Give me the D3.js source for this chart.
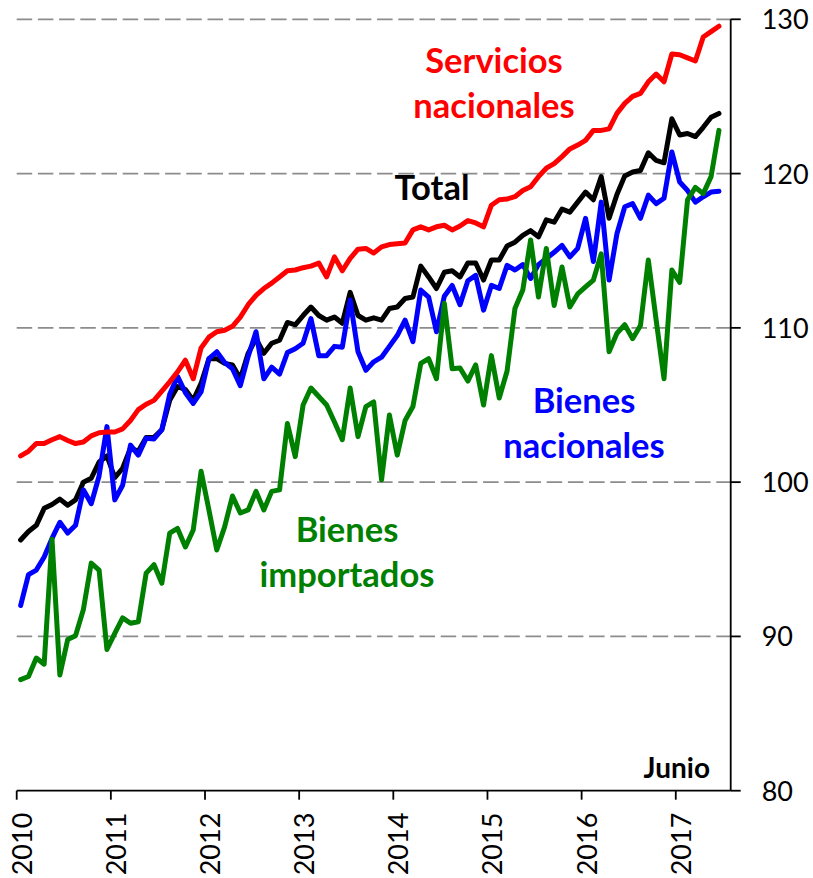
<!DOCTYPE html>
<html>
<head>
<meta charset="utf-8">
<script src="https://cdn.jsdelivr.net/npm/d3@7"></script>
<style>
    body { margin: 0; background: #fff; }
    .gridLine { stroke: #8c8c8c; stroke-width: 1.8; stroke-dasharray: 15.5 5.7; fill: none; }
    .axisLine { stroke: #000; stroke-width: 1.8; fill: none; }
    .tickLabel { font-family: Lato, "Open Sans", sans-serif; font-size: 27px; fill: #000; }
    .seriesLine { fill: none; stroke-width: 5; stroke-linejoin: round; stroke-linecap: round; }
    .seriesLabel { font-family: Lato, "Open Sans", sans-serif; font-weight: bold; font-size: 34.5px; text-anchor: middle; }
</style>
</head>
<body>
<script>
//monthly index values, Jan 2010 - Jun 2017
var years = ["2010", "2011", "2012", "2013", "2014", "2015", "2016", "2017"];
var yTicks = [80, 90, 100, 110, 120, 130];

var servicios = [101.7, 102.0, 102.5, 102.5, 102.75, 102.95, 102.7, 102.5, 102.6, 103.0, 103.2, 103.25,
    103.25, 103.45, 104.0, 104.7, 105.05, 105.3, 105.9, 106.5, 107.15, 107.9, 106.7, 108.7,
    109.4, 109.75, 109.85, 110.1, 110.7, 111.5, 112.1, 112.55, 112.9, 113.3, 113.7, 113.75,
    113.9, 114.0, 114.2, 113.3, 114.6, 113.7, 114.5, 115.1, 115.15, 114.85, 115.25, 115.4,
    115.45, 115.5, 116.35, 116.55, 116.35, 116.55, 116.65, 116.35, 116.6, 116.95, 116.8, 116.55,
    117.95, 118.3, 118.35, 118.5, 118.9, 119.15, 119.8, 120.35, 120.65, 121.1, 121.6, 121.85,
    122.15, 122.8, 122.8, 122.9, 123.9, 124.55, 125.0, 125.2, 125.95, 126.45, 125.95, 127.75,
    127.7, 127.5, 127.3, 128.85, 129.2, 129.55];

var total = [96.25, 96.8, 97.2, 98.3, 98.55, 98.9, 98.5, 98.85, 100.0, 100.25, 101.3, 101.7,
    100.3, 100.9, 102.2, 102.0, 102.9, 102.9, 103.4, 105.3, 106.2, 106.0, 105.3, 106.4,
    108.0, 108.0, 107.7, 107.6, 106.7, 108.35, 109.3, 108.35, 109.0, 109.2, 110.35, 110.2,
    110.8, 111.35, 110.8, 110.5, 110.7, 110.3, 112.3, 110.8, 110.5, 110.65, 110.5, 111.25,
    111.35, 111.9, 112.0, 114.0, 113.3, 112.55, 113.6, 113.7, 113.3, 114.2, 114.2, 113.1,
    114.4, 114.4, 115.3, 115.55, 116.0, 116.3, 115.9, 117.0, 116.85, 117.7, 117.5, 118.15,
    118.8, 118.3, 119.8, 117.1, 118.65, 119.85, 120.1, 120.2, 121.35, 120.85, 120.7, 123.55,
    122.5, 122.6, 122.4, 123.0, 123.65, 123.9];

var bienesNac = [92.0, 94.0, 94.3, 95.15, 96.35, 97.4, 96.7, 97.2, 99.5, 98.6, 100.4, 103.6,
    98.85, 99.8, 102.4, 101.75, 102.85, 102.8, 103.4, 105.7, 106.85, 105.8, 105.1, 105.85,
    108.0, 108.45, 107.75, 107.35, 106.25, 108.15, 109.75, 106.7, 107.45, 107.0, 108.4, 108.65,
    109.0, 110.6, 108.2, 108.2, 108.8, 108.75, 111.8, 108.45, 107.25, 107.8, 108.1, 108.8,
    109.5, 110.5, 109.1, 112.45, 112.0, 109.75, 112.05, 112.75, 111.5, 113.05, 113.4, 111.15,
    112.75, 112.55, 114.05, 113.75, 114.1, 113.2, 114.1, 114.5, 114.9, 115.35, 114.6, 115.15,
    117.1, 114.3, 118.15, 113.1, 116.1, 117.85, 118.05, 117.1, 118.6, 118.05, 118.4, 121.4,
    119.45, 118.9, 118.15, 118.5, 118.8, 118.85];

var bienesImp = [87.2, 87.4, 88.6, 88.2, 96.3, 87.5, 89.8, 90.05, 91.75, 94.75, 94.3, 89.15,
    90.2, 91.2, 90.85, 90.95, 94.1, 94.65, 93.45, 96.7, 97.0, 95.8, 96.9, 100.7,
    98.2, 95.6, 97.1, 99.1, 98.0, 98.2, 99.4, 98.2, 99.4, 99.5, 103.8, 101.65,
    105.0, 106.1, 105.55, 105.0, 103.9, 102.75, 106.1, 102.95, 104.9, 105.2, 100.15, 104.35,
    101.75, 104.0, 104.9, 107.7, 108.0, 106.7, 111.6, 107.35, 107.4, 106.55, 107.6, 105.0,
    108.2, 105.45, 107.2, 111.25, 112.45, 115.7, 112.0, 115.15, 111.45, 113.95, 111.35, 112.2,
    112.65, 113.1, 114.8, 108.45, 109.65, 110.2, 109.3, 110.15, 114.4, 110.5, 106.7, 113.75,
    112.95, 118.3, 119.1, 118.7, 119.8, 122.8];

window.onload = setChart();

function setChart(){
    //svg dimensions
    var width = 813,
        height = 878;

    var svg = d3.select("body")
        .append("svg")
        .attr("width", width)
        .attr("height", height);

    //91 monthly slots on the category axis, points in the middle of each
    var x = d3.scaleLinear()
        .domain([0, 91])
        .range([16.7, 730.7]);

    var y = d3.scaleLinear()
        .domain([80, 130])
        .range([790.7, 19.3]);

    //dashed grid lines
    svg.selectAll(".gridLine")
        .data(yTicks.filter(function(d){ return d > 80; }))
        .enter()
        .append("line")
        .attr("class", "gridLine")
        .attr("x1", x(0))
        .attr("x2", x(91))
        .attr("y1", function(d){ return y(d); })
        .attr("y2", function(d){ return y(d); });

    //series lines, drawn in order
    var series = [
        {values: total, color: "#000000"},
        {values: bienesNac, color: "#0000ff"},
        {values: bienesImp, color: "#008000"},
        {values: servicios, color: "#ff0000"}
    ];

    var line = d3.line()
        .x(function(d, i){ return x(i + 0.5); })
        .y(function(d){ return y(d); });

    svg.selectAll(".seriesLine")
        .data(series)
        .enter()
        .append("path")
        .attr("class", "seriesLine")
        .attr("stroke", function(d){ return d.color; })
        .attr("d", function(d){ return line(d.values); });

    //x axis
    var xAxis = svg.append("g");
    xAxis.append("line")
        .attr("class", "axisLine")
        .attr("x1", x(0))
        .attr("x2", x(91))
        .attr("y1", y(80))
        .attr("y2", y(80));

    xAxis.selectAll(".xTick")
        .data(years)
        .enter()
        .append("line")
        .attr("class", "axisLine xTick")
        .attr("x1", function(d, i){ return x(i * 12); })
        .attr("x2", function(d, i){ return x(i * 12); })
        .attr("y1", y(80))
        .attr("y2", y(80) + 9);

    xAxis.selectAll(".xLabel")
        .data(years)
        .enter()
        .append("text")
        .attr("class", "tickLabel xLabel")
        .attr("text-anchor", "end")
        .attr("transform", function(d, i){
            return "translate(" + (x(i * 12) + 15) + "," + (y(80) + 22) + ") rotate(-90)";
        })
        .text(function(d){ return d; });

    //y axis on the right
    var yAxis = svg.append("g");
    yAxis.append("line")
        .attr("class", "axisLine")
        .attr("x1", x(91))
        .attr("x2", x(91))
        .attr("y1", y(130))
        .attr("y2", y(80));

    yAxis.selectAll(".yTick")
        .data(yTicks)
        .enter()
        .append("line")
        .attr("class", "axisLine yTick")
        .attr("x1", x(91))
        .attr("x2", x(91) + 10)
        .attr("y1", function(d){ return y(d); })
        .attr("y2", function(d){ return y(d); });

    yAxis.selectAll(".yLabel")
        .data(yTicks)
        .enter()
        .append("text")
        .attr("class", "tickLabel yLabel")
        .attr("x", x(91) + 31)
        .attr("y", function(d){ return y(d) + 10; })
        .text(function(d){ return d; });

    //series labels
    var labels = [
        {lines: ["Servicios", "nacionales"], x: 494, y: 73, color: "#ff0000"},
        {lines: ["Total"], x: 432, y: 200, color: "#000000"},
        {lines: ["Bienes", "nacionales"], x: 584, y: 413, color: "#0000ff"},
        {lines: ["Bienes", "importados"], x: 347, y: 542, color: "#008000"}
    ];

    labels.forEach(function(lab){
        var t = svg.append("text")
            .attr("class", "seriesLabel")
            .attr("fill", lab.color);
        lab.lines.forEach(function(s, k){
            t.append("tspan")
                .attr("x", lab.x)
                .attr("y", lab.y + k * 44.5)
                .text(s);
        });
    });

    svg.append("text")
        .attr("x", 710)
        .attr("y", 778)
        .attr("text-anchor", "end")
        .style("font-family", "Lato, sans-serif")
        .style("font-weight", "bold")
        .style("font-size", "28px")
        .text("Junio");
};
</script>
</body>
</html>
